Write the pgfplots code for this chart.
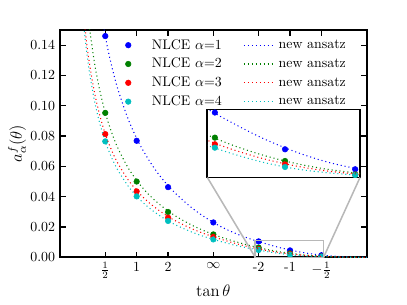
\documentclass[border=0pt]{standalone}
\usepackage{pgfplots}
\pgfplotsset{compat=1.18}
\usepackage{pgfplotstable}
\definecolor{mblue}{rgb}{0,0,1}
\definecolor{mgreen}{rgb}{0,0.5,0}
\definecolor{mred}{rgb}{1,0,0}
\definecolor{mcyan}{rgb}{0,0.75,0.75}
\definecolor{mgray}{rgb}{0.72,0.72,0.72}

\pgfplotstableread{
x       b       g       r       c
0.46365 0.1460  0.0953  0.0813  0.0765
0.78540 0.0769  0.0500  0.0435  0.0402
1.10715 0.0463  0.0299  0.0262  0.0240
1.57080 0.0230  0.0151  0.0135  0.0118
2.03444 0.0105  0.00644 0.00537 0.00482
2.35619 0.00456 0.00267 0.00214 0.0017
2.67795 0.00133 0.0005  0.00045 0.0004
}\nlce

\pgfplotstableread{
x y
0.40 0.1709
0.45 0.1508
0.50 0.1344
0.55 0.1209
0.60 0.1094
0.70 0.0909
0.80 0.0766
0.90 0.0652
1.00 0.0557
1.10 0.0478
1.20 0.0411
1.35 0.03264
1.50 0.02579
1.65 0.02017
1.80 0.0157
1.95 0.0121
2.10 0.0091
2.25 0.0064
2.40 0.0042
2.55 0.0025
2.70 0.00133
2.85 0.00055
3.00 0.00013
3.14159 0
}\ansb

\pgfplotstableread{
x y
0.28 0.1639
0.30 0.1525
0.35 0.1296
0.40 0.1123
0.45 0.0987
0.50 0.0878
0.55 0.0787
0.60 0.0711
0.70 0.0588
0.80 0.0495
0.90 0.0420
1.00 0.0360
1.10 0.0309
1.20 0.0266
1.35 0.02123
1.50 0.01688
1.65 0.0133
1.80 0.0103
1.95 0.00767
2.10 0.00543
2.25 0.00366
2.40 0.00231
2.55 0.00133
2.70 0.00068
2.85 0.00027
3.00 0.00006
3.14159 0
}\ansg

\pgfplotstableread{
x y
0.24 0.1614
0.27 0.1432
0.30 0.1287
0.35 0.1098
0.40 0.0955
0.45 0.0842
0.50 0.0751
0.55 0.0675
0.60 0.0612
0.70 0.0509
0.80 0.0431
0.90 0.0367
1.00 0.0316
1.10 0.0272
1.20 0.0235
1.35 0.01886
1.50 0.01506
1.65 0.0119
1.80 0.0091
1.95 0.0067
2.10 0.0047
2.25 0.0031
2.40 0.0019
2.55 0.00105
2.70 0.00053
2.85 0.00021
3.00 0.00005
3.14159 0
}\ansr

\pgfplotstableread{
x y
0.23 0.1623
0.26 0.1429
0.30 0.1229
0.35 0.1043
0.40 0.0902
0.45 0.0791
0.50 0.0702
0.55 0.0628
0.60 0.0567
0.70 0.0468
0.80 0.0392
0.90 0.0333
1.00 0.0284
1.10 0.0243
1.20 0.0209
1.35 0.01665
1.50 0.01321
1.65 0.01038
1.80 0.00785
1.95 0.0058
2.10 0.0040
2.25 0.0025
2.40 0.00143
2.55 0.00077
2.70 0.00037
2.85 0.00014
3.00 0.00003
3.14159 0
}\ansc

\pgfplotsset{
  nlce/.style={only marks, mark=*, mark size=2pt, color=#1,
    mark options={solid, fill=#1, draw=#1},
    legend image code/.code={\draw plot coordinates {(0pt,0pt)}; \path[draw=none,fill=none] (-2pt,0pt) rectangle (15pt,0.1pt);}},
  ans/.style={no markers, line width=0.75pt, dash pattern=on 0.75pt off 2.1pt, color=#1, smooth,
    legend image code/.code={\draw (0pt,0pt) -- (20.6pt,0pt); \path[draw=none,fill=none] (0pt,0pt) rectangle (23pt,0.1pt);}},
}

\begin{document}
\begin{tikzpicture}
\useasboundingbox (-43.2pt,-34.34pt) rectangle (249.84pt,185.26pt);
\begin{axis}[
  name=main, at={(0pt,0pt)}, anchor=south west, scale only axis,
  width=220.82pt, height=163.66pt,
  xmin=0, xmax=3.14159265, ymin=0, ymax=0.15,
  xtick={0.46365,0.78540,1.10715,1.57080,2.03444,2.35619,2.67795},
  xticklabels={$\frac{1}{2}$,1,2,$\infty$,-2,-1,$-\frac{1}{2}$},
  ytick={0,0.02,0.04,0.06,0.08,0.10,0.12,0.14},
  scaled y ticks=false,
  yticklabel style={/pgf/number format/.cd, fixed, fixed zerofill, precision=2},
  tick pos=both,
  xlabel={$\tan\theta$}, ylabel={$a^f_\alpha(\theta)$},
  xlabel style={font=\large, at={(axis description cs:0.5,0)}, anchor=base, yshift=-28.4pt},
  ylabel style={font=\large, at={(axis description cs:-0.14,0.5)}, anchor=center},
  axis line style={line width=1.3pt},
  major tick length=4pt,
  tick style={line width=0.9pt, black},
  clip marker paths=true,
  legend style={draw=none, fill=none, at={(0.199,0.985)}, anchor=north west,
    /tikz/every even column/.append style={column sep=13.6pt}, row sep=1pt},
  legend columns=4, transpose legend,
]
\addplot[nlce=mblue] table[x=x, y=b] {\nlce}; \addlegendentry{NLCE $\alpha$=1}
\addplot[nlce=mgreen] table[x=x, y=g] {\nlce}; \addlegendentry{NLCE $\alpha$=2}
\addplot[nlce=mred] table[x=x, y=r] {\nlce}; \addlegendentry{NLCE $\alpha$=3}
\addplot[nlce=mcyan] table[x=x, y=c] {\nlce}; \addlegendentry{NLCE $\alpha$=4}
\addplot[ans=mblue] table {\ansb}; \addlegendentry{new ansatz}
\addplot[ans=mgreen] table {\ansg}; \addlegendentry{new ansatz}
\addplot[ans=mred] table {\ansr}; \addlegendentry{new ansatz}
\addplot[ans=mcyan] table {\ansc}; \addlegendentry{new ansatz}
\draw[mgray, line width=1.1pt] (axis cs:2.0,0) rectangle (axis cs:2.7,0.011);
\coordinate (rl) at (axis cs:2.0,0);
\coordinate (rr) at (axis cs:2.7,0);
\end{axis}
\begin{axis}[
  name=inset, at={(106.1pt,57.46pt)}, anchor=south west, scale only axis,
  width=109.9pt, height=49pt,
  xmin=2.0, xmax=2.7, ymin=0, ymax=0.011,
  xtick=\empty, ytick=\empty,
  axis background/.style={fill=white},
  axis line style={line width=1.3pt},
  clip marker paths=true,
]
\addplot[nlce=mblue] table[x=x, y=b] {\nlce};
\addplot[nlce=mgreen] table[x=x, y=g] {\nlce};
\addplot[nlce=mred] table[x=x, y=r] {\nlce};
\addplot[nlce=mcyan] table[x=x, y=c] {\nlce};
\addplot[ans=mblue] table {\ansb};
\addplot[ans=mgreen] table {\ansg};
\addplot[ans=mred] table {\ansr};
\addplot[ans=mcyan] table {\ansc};
\end{axis}
\draw[mgray, line width=1.1pt] (inset.south west) -- (rl);
\draw[mgray, line width=1.1pt] (inset.south east) -- (rr);
\end{tikzpicture}
\end{document}
